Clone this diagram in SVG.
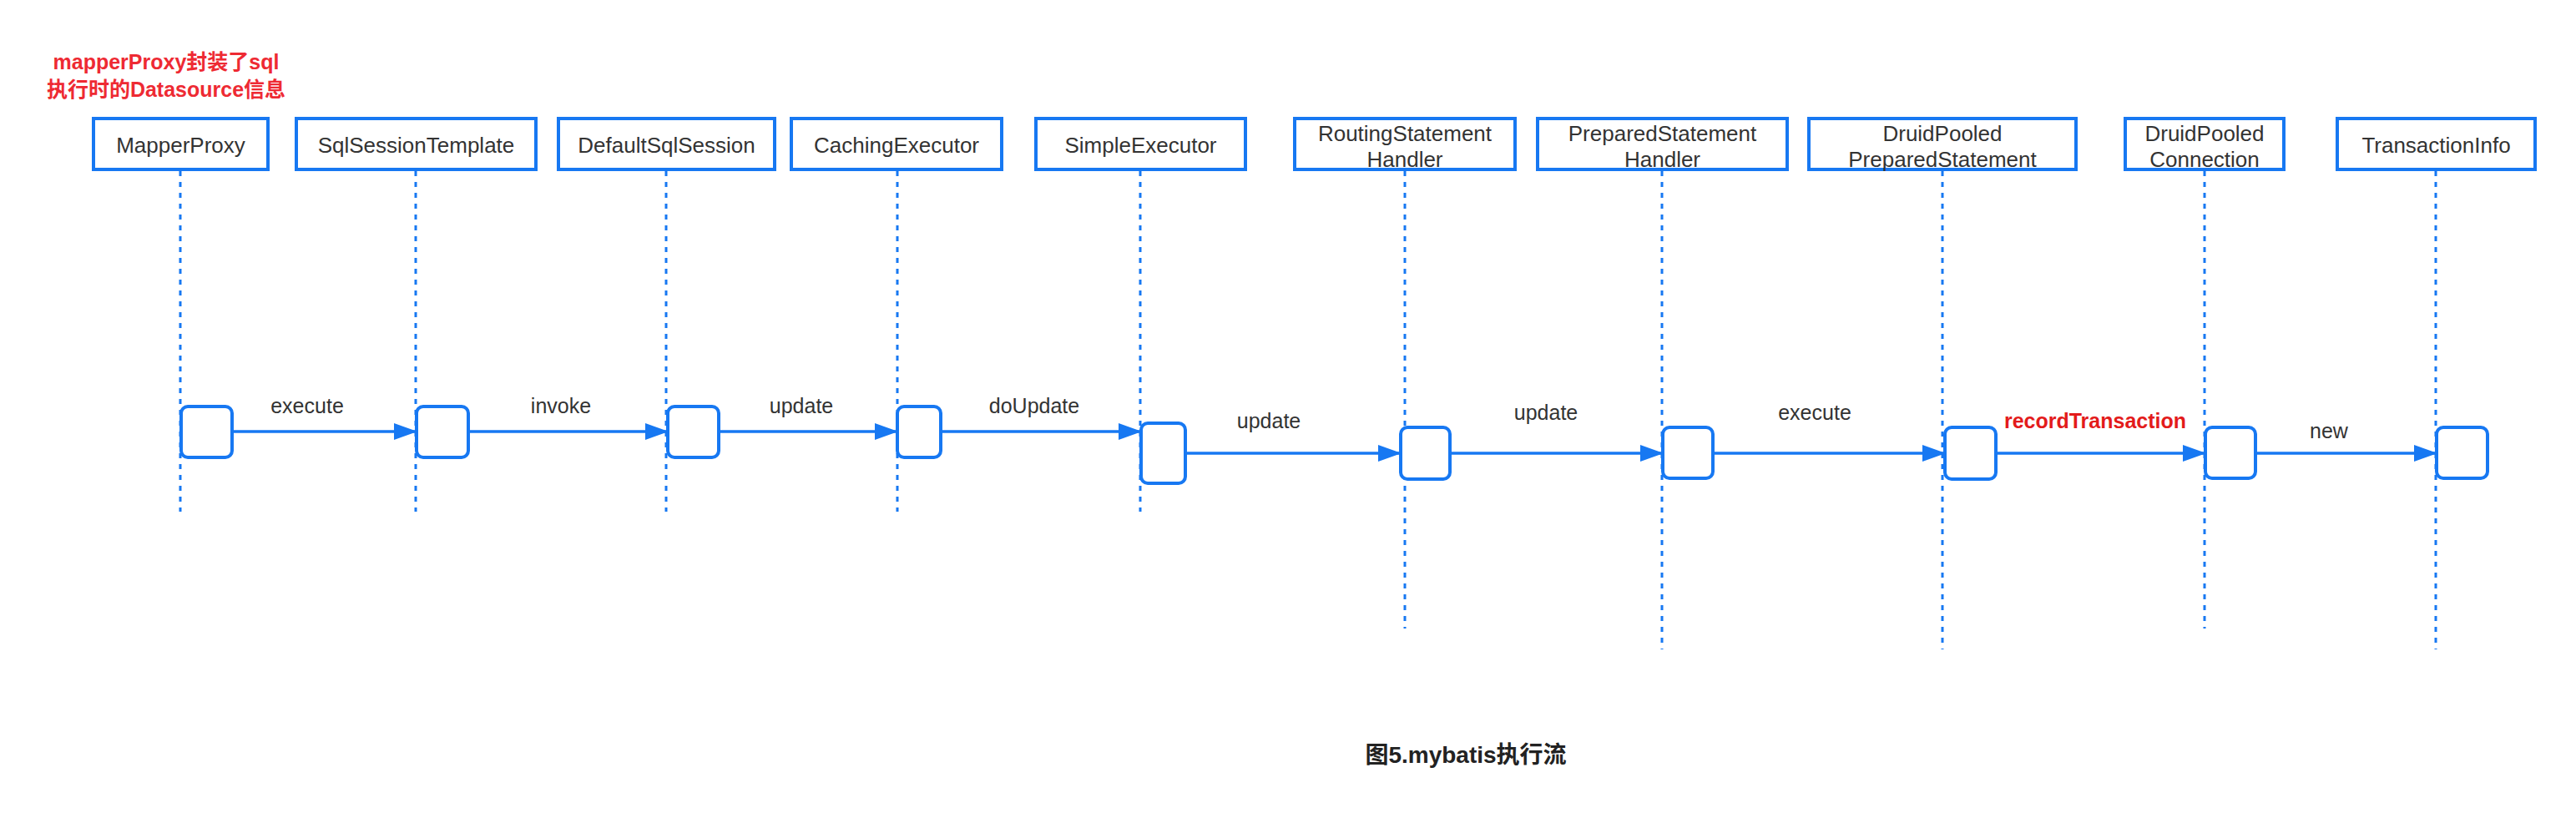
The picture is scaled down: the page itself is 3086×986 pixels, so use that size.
<svg xmlns="http://www.w3.org/2000/svg" width="3086" height="986" viewBox="0 0 3086 986">
<style>
.hdr{fill:#fff;stroke:#1778F2;stroke-width:4}
.act{fill:#fff;stroke:#1778F2;stroke-width:4}
.life{stroke:#1778F2;stroke-width:3;stroke-dasharray:6 7;fill:none}
.msg{stroke:#1778F2;stroke-width:3.5;fill:none}
.t{font-family:"Liberation Sans","Noto Sans CJK SC",sans-serif;font-size:26px;fill:#333;text-anchor:middle}
.lbl{font-family:"Liberation Sans","Noto Sans CJK SC",sans-serif;font-size:25px;fill:#333;text-anchor:middle}
.red{font-family:"Liberation Sans","Noto Sans CJK SC",sans-serif;font-size:25px;font-weight:bold;fill:#e31b1b;text-anchor:middle}
.note{font-family:"Liberation Sans","Noto Sans CJK SC",sans-serif;font-size:25px;font-weight:bold;fill:#ee2a33;text-anchor:middle}
.cap{font-family:"Liberation Sans","Noto Sans CJK SC",sans-serif;font-size:28px;font-weight:bold;fill:#222;text-anchor:middle}
</style>
<defs>
<marker id="ah" markerWidth="28" markerHeight="20" refX="27" refY="10" orient="auto" markerUnits="userSpaceOnUse">
<path d="M0,0 L28,10 L0,20 Z" fill="#1778F2"/>
</marker>
</defs>
<rect width="3086" height="986" fill="#fff"/>
<g id="note">
<text class="note" x="199" y="83">mapperProxy封装了sql</text>
<text class="note" x="199" y="116">执行时的Datasource信息</text>
</g>
<g id="lifelines">
<line class="life" x1="216" y1="205" x2="216" y2="613"/>
<line class="life" x1="498" y1="205" x2="498" y2="613"/>
<line class="life" x1="798" y1="205" x2="798" y2="613"/>
<line class="life" x1="1075" y1="205" x2="1075" y2="613"/>
<line class="life" x1="1366" y1="205" x2="1366" y2="613"/>
<line class="life" x1="1683" y1="205" x2="1683" y2="753"/>
<line class="life" x1="1991" y1="205" x2="1991" y2="778"/>
<line class="life" x1="2327" y1="205" x2="2327" y2="778"/>
<line class="life" x1="2641" y1="205" x2="2641" y2="753"/>
<line class="life" x1="2918" y1="205" x2="2918" y2="778"/>
</g>
<g id="n1"><rect class="hdr" x="112" y="142" width="209" height="61"/><text class="t" x="216.5" y="183">MapperProxy</text></g>
<g id="n2"><rect class="hdr" x="355" y="142" width="287" height="61"/><text class="t" x="498.5" y="183">SqlSessionTemplate</text></g>
<g id="n3"><rect class="hdr" x="669" y="142" width="259" height="61"/><text class="t" x="798.5" y="183">DefaultSqlSession</text></g>
<g id="n4"><rect class="hdr" x="948" y="142" width="252" height="61"/><text class="t" x="1074" y="183">CachingExecutor</text></g>
<g id="n5"><rect class="hdr" x="1241" y="142" width="251" height="61"/><text class="t" x="1366.5" y="183">SimpleExecutor</text></g>
<g id="n6"><rect class="hdr" x="1551" y="142" width="264" height="61"/><text class="t" x="1683" y="169">RoutingStatement</text><text class="t" x="1683" y="200">Handler</text></g>
<g id="n7"><rect class="hdr" x="1842" y="142" width="299" height="61"/><text class="t" x="1991.5" y="169">PreparedStatement</text><text class="t" x="1991.5" y="200">Handler</text></g>
<g id="n8"><rect class="hdr" x="2167" y="142" width="320" height="61"/><text class="t" x="2327" y="169">DruidPooled</text><text class="t" x="2327" y="200">PreparedStatement</text></g>
<g id="n9"><rect class="hdr" x="2546" y="142" width="190" height="61"/><text class="t" x="2641" y="169">DruidPooled</text><text class="t" x="2641" y="200">Connection</text></g>
<g id="n10"><rect class="hdr" x="2800" y="142" width="237" height="61"/><text class="t" x="2918.5" y="183">TransactionInfo</text></g>
<g id="activations">
<rect class="act" x="217" y="487" width="61" height="61" rx="8"/>
<rect class="act" x="499" y="487" width="62" height="61" rx="8"/>
<rect class="act" x="800" y="487" width="61" height="61" rx="8"/>
<rect class="act" x="1075" y="487" width="52" height="61" rx="8"/>
<rect class="act" x="1367" y="507" width="53" height="72" rx="8"/>
<rect class="act" x="1678" y="512" width="59" height="62" rx="8"/>
<rect class="act" x="1992" y="512" width="60" height="61" rx="8"/>
<rect class="act" x="2330" y="512" width="61" height="62" rx="8"/>
<rect class="act" x="2642" y="512" width="60" height="61" rx="8"/>
<rect class="act" x="2919" y="512" width="61" height="61" rx="8"/>
</g>
<g id="connectors">
<line class="msg" x1="278" y1="517" x2="499" y2="517" marker-end="url(#ah)"/>
<line class="msg" x1="561" y1="517" x2="800" y2="517" marker-end="url(#ah)"/>
<line class="msg" x1="861" y1="517" x2="1075" y2="517" marker-end="url(#ah)"/>
<line class="msg" x1="1127" y1="517" x2="1367" y2="517" marker-end="url(#ah)"/>
<line class="msg" x1="1420" y1="543" x2="1678" y2="543" marker-end="url(#ah)"/>
<line class="msg" x1="1737" y1="543" x2="1992" y2="543" marker-end="url(#ah)"/>
<line class="msg" x1="2052" y1="543" x2="2330" y2="543" marker-end="url(#ah)"/>
<line class="msg" x1="2391" y1="543" x2="2642" y2="543" marker-end="url(#ah)"/>
<line class="msg" x1="2702" y1="543" x2="2919" y2="543" marker-end="url(#ah)"/>
<text class="lbl" x="368" y="495">execute</text>
<text class="lbl" x="672" y="495">invoke</text>
<text class="lbl" x="960" y="495">update</text>
<text class="lbl" x="1239" y="495">doUpdate</text>
<text class="lbl" x="1520" y="513">update</text>
<text class="lbl" x="1852" y="503">update</text>
<text class="lbl" x="2174" y="503">execute</text>
<text class="red" x="2510" y="513">recordTransaction</text>
<text class="lbl" x="2790" y="525">new</text>
</g>
<text class="cap" x="1756" y="914">图5.mybatis执行流</text>
</svg>
